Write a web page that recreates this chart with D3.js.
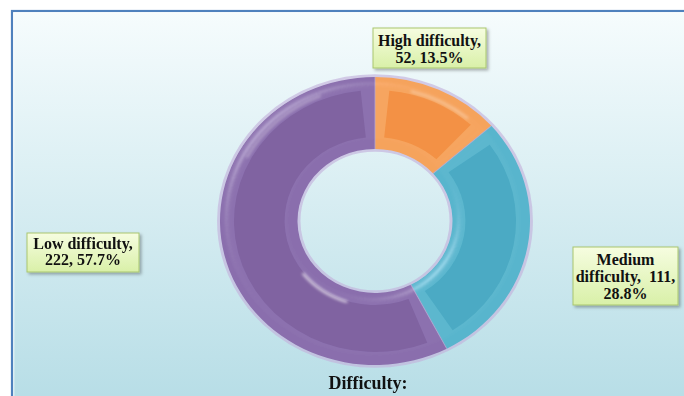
<!DOCTYPE html>
<html>
<head>
<meta charset="utf-8">
<script src="https://cdn.jsdelivr.net/npm/d3@7"></script>
<style>
  html, body { margin: 0; padding: 0; background: #ffffff; }
  svg { display: block; }
</style>
</head>
<body>
<svg id="chart" width="684" height="396"></svg>
<script>
// Difficulty breakdown
const categories = ["High difficulty", "Medium difficulty", "Low difficulty"];
const counts = [52, 111, 222];
const colors = ["#F28F3E", "#45A8C2", "#7D5F9F"];
const bevelColors = ["#F5A35C", "#58B5CD", "#8A6EAD"];
const chartTitle = "Difficulty:";
// label lines as set in each callout box
const labelLines = [
  ["High difficulty,", "{v}, {p}"],
  ["Medium", "difficulty,  {v},", "{p}"],
  ["Low difficulty,", "{v}, {p}"]
];

const W = 684, H = 396;
const svg = d3.select("#chart");
const defs = svg.append("defs");

// chart-area background
const bg = defs.append("linearGradient").attr("id", "bgGrad")
  .attr("x1", 0).attr("y1", 0).attr("x2", 0).attr("y2", 1);
bg.append("stop").attr("offset", "0%").attr("stop-color", "#f6fcfd");
bg.append("stop").attr("offset", "100%").attr("stop-color", "#b6dde6");

const lab = defs.append("linearGradient").attr("id", "labGrad")
  .attr("x1", 0).attr("y1", 0).attr("x2", 0).attr("y2", 1);
lab.append("stop").attr("offset", "0%").attr("stop-color", "#f6fde0");
lab.append("stop").attr("offset", "100%").attr("stop-color", "#d9f0a8");

// bevel lighting
const f = defs.append("filter").attr("id", "bevel")
  .attr("x", "-10%").attr("y", "-10%").attr("width", "120%").attr("height", "120%");
f.append("feGaussianBlur").attr("in", "SourceAlpha").attr("stdDeviation", 4).attr("result", "blur");
const spec = f.append("feSpecularLighting").attr("in", "blur")
  .attr("surfaceScale", 5).attr("specularConstant", 0.5)
  .attr("specularExponent", 30).attr("lighting-color", "#ffffff").attr("result", "spec");
spec.append("feDistantLight").attr("azimuth", 225).attr("elevation", 40);
f.append("feComposite").attr("in", "spec").attr("in2", "SourceAlpha")
  .attr("operator", "in").attr("result", "specIn");
f.append("feComposite").attr("in", "SourceGraphic").attr("in2", "specIn")
  .attr("operator", "arithmetic").attr("k1", 0).attr("k2", 1).attr("k3", 0.35).attr("k4", 0);

const soft = defs.append("filter").attr("id", "soft")
  .attr("x", "-20%").attr("y", "-20%").attr("width", "140%").attr("height", "140%");
soft.append("feGaussianBlur").attr("stdDeviation", 1.6);

const shadow = defs.append("filter").attr("id", "boxShadow")
  .attr("x", "-10%").attr("y", "-10%").attr("width", "130%").attr("height", "140%");
shadow.append("feDropShadow").attr("dx", 2).attr("dy", 2).attr("stdDeviation", 1.5)
  .attr("flood-color", "#000").attr("flood-opacity", 0.3);

// frame
svg.append("rect").attr("x", 12).attr("y", 11).attr("width", W).attr("height", H)
  .attr("fill", "url(#bgGrad)").attr("stroke", "#4F81BD").attr("stroke-width", 2.2);
svg.append("rect").attr("x", 13.8).attr("y", 12.8).attr("width", W).attr("height", H)
  .attr("fill", "none").attr("stroke", "#ffffff").attr("stroke-width", 1).attr("opacity", 0.8);

// donut geometry
const cx = 375, cy = 221, ry = 144, rx = 155;
const outerR = ry, innerR = 72;
const total = d3.sum(counts);
const fmtPct = v => (v / total * 100).toFixed(1) + "%";

const pie = d3.pie().sort(null).value(d => d)(counts);
const arcFull = d3.arc().innerRadius(innerR).outerRadius(outerR);
const arcFace = d3.arc().innerRadius(innerR + 12).outerRadius(outerR - 13);

const g = svg.append("g")
  .attr("transform", `translate(${cx},${cy}) scale(${rx / ry},1)`);

// soft rim glow
g.append("circle").attr("r", outerR + 1).attr("fill", "none")
  .attr("stroke", "#c3b2dc").attr("stroke-width", 3.5).attr("opacity", 0.65);
g.append("circle").attr("r", innerR - 1).attr("fill", "none")
  .attr("stroke", "#c3b2dc").attr("stroke-width", 3.5).attr("opacity", 0.65);

const slices = g.append("g").attr("filter", "url(#bevel)");
slices.selectAll("path.full").data(pie).join("path")
  .attr("class", "full")
  .attr("d", arcFull)
  .attr("fill", (d, i) => bevelColors[i]);

slices.selectAll("path.face").data(pie).join("path")
  .attr("class", "face")
  .attr("d", d => {
    // inset the face angularly so the chamfer shows on the slice ends
    const pad = 11 / ((innerR + outerR) / 2);
    return arcFace({ startAngle: d.startAngle + pad, endAngle: d.endAngle - pad });
  })
  .attr("fill", (d, i) => colors[i]);

// thin separators between slices
slices.selectAll("line.sep").data(pie).join("line")
  .attr("class", "sep")
  .attr("x1", d => innerR * Math.sin(d.startAngle))
  .attr("y1", d => -innerR * Math.cos(d.startAngle))
  .attr("x2", d => outerR * Math.sin(d.startAngle))
  .attr("y2", d => -outerR * Math.cos(d.startAngle))
  .attr("stroke", "#b7a7d3").attr("stroke-width", 1).attr("opacity", 0.7);

// glossy streaks on the ring
const streak = d3.arc();
const streaks = [
  { r: innerR + 13, a0: 3.45, a1: 4.05, w: 2.2, o: 0.75 },
  { r: outerR - 9, a0: 5.2, a1: 5.9, w: 2, o: 0.35 },
  { r: outerR - 10, a0: 0.25, a1: 0.7, w: 2, o: 0.4 }
];
g.append("g").attr("filter", "url(#soft)")
  .selectAll("path").data(streaks).join("path")
  .attr("d", s => streak({ innerRadius: s.r - s.w / 2, outerRadius: s.r + s.w / 2,
                          startAngle: s.a0, endAngle: s.a1 }))
  .attr("fill", "#ffffff").attr("opacity", s => s.o);

// callout boxes
const boxes = [
  { x: 373, y: 28, w: 113, h: 40, lh: 17, first: 46 },
  { x: 573, y: 247, w: 105, h: 58, lh: 17, first: 265 },
  { x: 27, y: 233, w: 112, h: 39, lh: 16, first: 249 }
];
const labels = svg.append("g");
boxes.forEach((b, i) => {
  const gg = labels.append("g");
  gg.append("rect").attr("x", b.x).attr("y", b.y).attr("width", b.w).attr("height", b.h)
    .attr("fill", "url(#labGrad)").attr("stroke", "#a9c66f").attr("stroke-width", 1)
    .attr("filter", "url(#boxShadow)");
  labelLines[i].forEach((line, k) => {
    const txt = line.replace("{v}", counts[i]).replace("{p}", fmtPct(counts[i]));
    gg.append("text")
      .attr("x", b.x + b.w / 2).attr("y", b.first + k * b.lh)
      .attr("text-anchor", "middle")
      .attr("font-family", "'Liberation Serif', 'Times New Roman', serif")
      .attr("font-weight", "bold").attr("font-size", 16)
      .attr("fill", "#111")
      .style("white-space", "pre")
      .text(txt);
  });
});

svg.append("text").attr("x", 368).attr("y", 389)
  .attr("text-anchor", "middle")
  .attr("font-family", "'Liberation Serif', 'Times New Roman', serif")
  .attr("font-weight", "bold").attr("font-size", 18).attr("fill", "#111")
  .text(chartTitle);
</script>
</body>
</html>
